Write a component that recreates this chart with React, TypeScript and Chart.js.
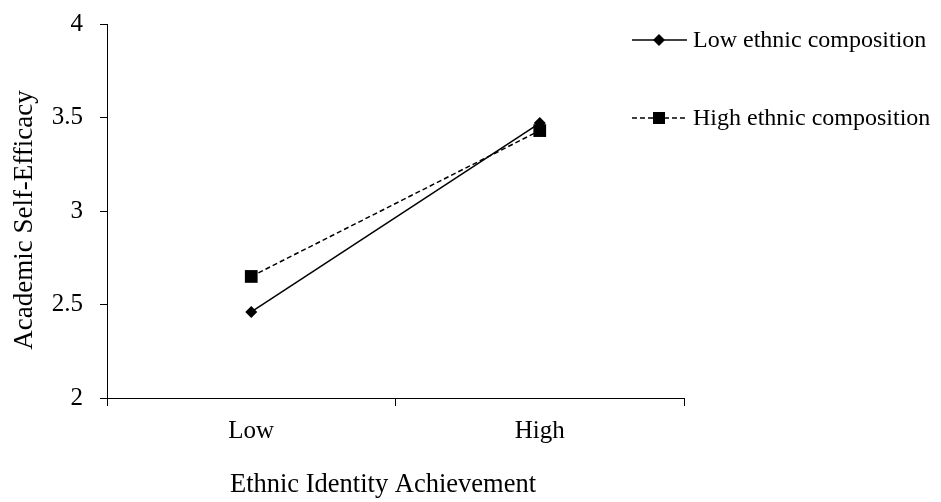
import React, { useEffect, useRef } from "react";
import { Chart, registerables } from "chart.js";

Chart.register(...registerables);

const categories = ["Low", "High"];
const lowEthnicComposition = [2.46, 3.47];
const highEthnicComposition = [2.65, 3.43];
const seriesNames = ["Low ethnic composition", "High ethnic composition"];
const yTitle = "Academic Self-Efficacy";
const xTitle = "Ethnic Identity Achievement";

const FONT = "'Liberation Serif', 'Times New Roman', serif";

const legendPlugin = {
  id: "customLegend",
  afterDraw(chart: any) {
    const ctx = chart.ctx;
    const items = [
      { y: 32, dash: [] as number[], style: "rectRot", r: 6 },
      { y: 110, dash: [5, 3], style: "rect", r: 8.5 },
    ];
    ctx.save();
    items.forEach((it, i) => {
      const x0 = 624;
      const x1 = 679;
      ctx.strokeStyle = "#000";
      ctx.lineWidth = 1.5;
      ctx.setLineDash(it.dash);
      ctx.beginPath();
      ctx.moveTo(x0, it.y);
      ctx.lineTo(x1, it.y);
      ctx.stroke();
      ctx.setLineDash([]);
      ctx.fillStyle = "#000";
      const cx = 651;
      ctx.beginPath();
      if (it.style === "rectRot") {
        ctx.moveTo(cx, it.y - it.r);
        ctx.lineTo(cx + it.r, it.y);
        ctx.lineTo(cx, it.y + it.r);
        ctx.lineTo(cx - it.r, it.y);
        ctx.closePath();
      } else {
        const s = it.r * Math.SQRT1_2;
        ctx.rect(cx - s, it.y - s, 2 * s, 2 * s);
      }
      ctx.fill();
      ctx.font = `24px ${FONT}`;
      ctx.textBaseline = "middle";
      ctx.textAlign = "left";
      ctx.fillText(seriesNames[i], 685, it.y + 1);
    });
    // axis titles
    ctx.fillStyle = "#000";
    ctx.font = `26.5px ${FONT}`;
    ctx.textAlign = "center";
    ctx.textBaseline = "middle";
    ctx.fillText(xTitle, 375, 477);
    ctx.translate(17, 212);
    ctx.rotate(-Math.PI / 2);
    ctx.font = `27px ${FONT}`;
    ctx.fillText(yTitle, 0, 0);
    ctx.restore();
  },
};

export default function App() {
  const ref = useRef<HTMLCanvasElement>(null);
  useEffect(() => {
    if (!ref.current) return;
    const chart = new Chart(ref.current, {
      type: "line",
      data: {
        labels: categories,
        datasets: [
          {
            label: seriesNames[0],
            data: lowEthnicComposition,
            borderColor: "#000",
            backgroundColor: "#000",
            borderWidth: 1.5,
            pointStyle: "rectRot",
            pointRadius: 6,
            pointBorderWidth: 0,
          },
          {
            label: seriesNames[1],
            data: highEthnicComposition,
            borderColor: "#000",
            backgroundColor: "#000",
            borderWidth: 1.5,
            borderDash: [5, 3],
            pointStyle: "rect",
            pointRadius: 9,
            pointBorderWidth: 0,
          },
        ],
      },
      options: {
        animation: false,
        responsive: false,
        layout: { padding: { left: 0, right: 249, top: 16, bottom: 0 } },
        plugins: { legend: { display: false }, tooltip: { enabled: false } },
        scales: {
          x: {
            type: "category",
            offset: true,
            grid: {
              offset: true,
              drawOnChartArea: false,
              tickLength: 8,
              color: "#000",
            },
            border: { display: true, color: "#000", width: 1 },
            ticks: { color: "#000", font: { family: FONT, size: 25 }, padding: 10 },
            title: { display: false },
            afterFit(scale: any) {
              scale.height = 104;
            },
          },
          y: {
            min: 2,
            max: 4,
            ticks: {
              stepSize: 0.5,
              color: "#000",
              font: { family: FONT, size: 25 },
              padding: 17,
              callback: (v: any) => String(Number(v)),
            },
            grid: { drawOnChartArea: false, tickLength: 7, color: "#000" },
            border: { display: true, color: "#000", width: 1 },
            title: { display: false },
            afterFit(scale: any) {
              scale.width = 99;
              scale.paddingTop = 0;
              scale.paddingBottom = 0;
            },
          },
        },
      },
      plugins: [legendPlugin],
    });
    return () => chart.destroy();
  }, []);
  return (
    <div style={{ width: 925, height: 494 }}>
      <canvas ref={ref} width={925} height={494} style={{ display: "block" }} />
    </div>
  );
}
